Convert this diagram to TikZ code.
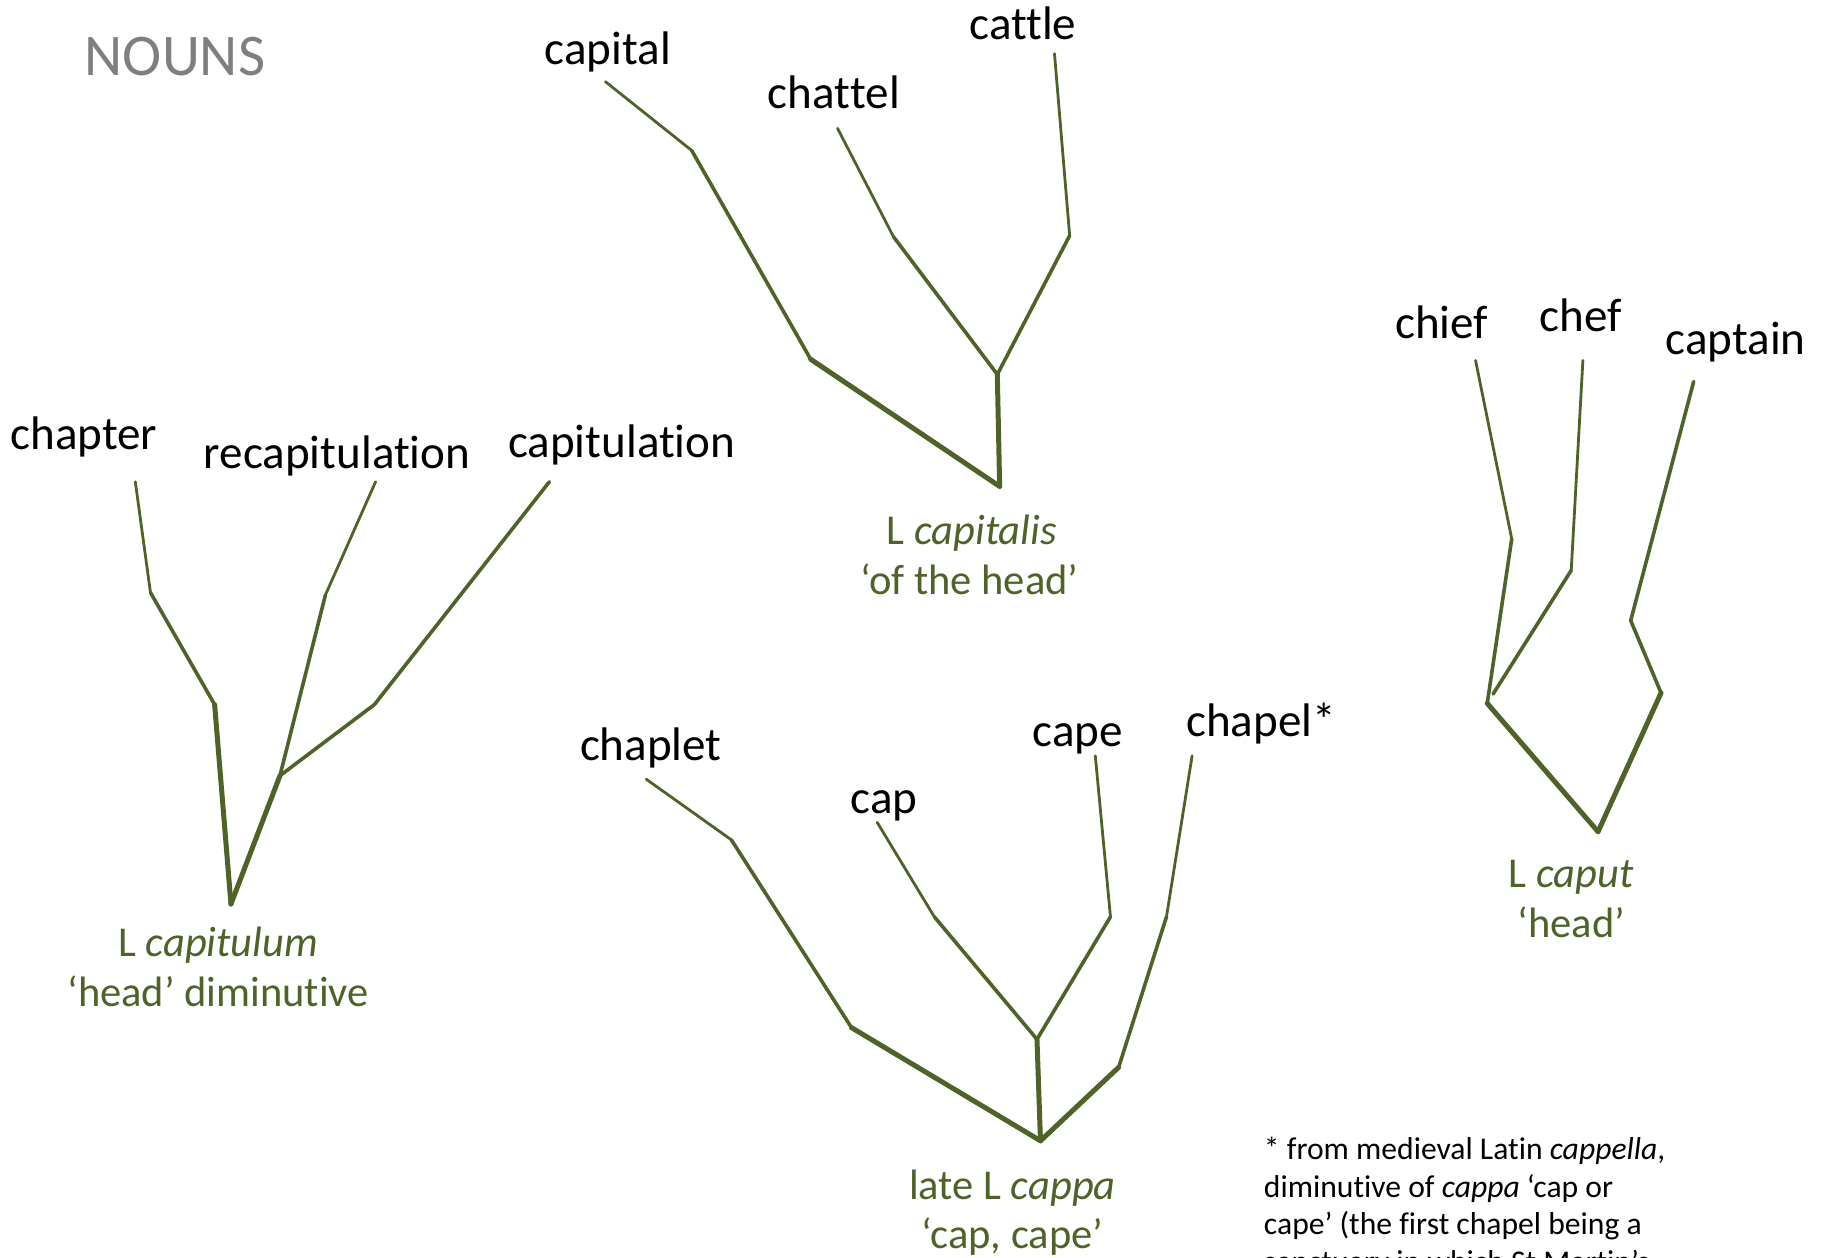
\documentclass[tikz,border=0pt]{standalone}
\usepackage{fontspec}
\setmainfont{Carlito}[Ligatures={TeX,NoCommon,NoContextual}]
\definecolor{leafgreen}{HTML}{4F6228}
\definecolor{headgray}{HTML}{7F7F7F}
\tikzset{
	word/.style={anchor=base, inner sep=0pt, font=\fontsize{13.4}{14}\selectfont},
	gloss/.style={word, text=leafgreen, font=\fontsize{12.1}{13}\selectfont},
	twig/.style={line width=0.28mm, color=leafgreen, line cap=round},
	branch/.style={line width=0.36mm, color=leafgreen, line cap=round},
	trunk/.style={line width=0.50mm, color=leafgreen, line cap=round},
	note/.style={anchor=north west, align=left, inner sep=0pt, font=\fontsize{9}{10.75}\selectfont}
}

\begin{document}
\begin{tikzpicture}[x=0.11665mm, y=-0.11665mm]
		%%%%% START %%%%%
		
		\useasboundingbox (0, 0) rectangle (1568, 1078);
		
		\node[word, text=headgray, font=\fontsize{16.8}{18}\selectfont] (nouns) at (150, 65) {NOUNS};
		
		% L capitulum
		\coordinate (capitulum) at (198, 775);
		\coordinate (capitulum-fork) at (240, 665);
		\coordinate (chapter-1) at (116, 413);
		\coordinate (chapter-2) at (129, 508);
		\coordinate (chapter-3) at (184, 604);
		\coordinate (recap-1) at (322, 413);
		\coordinate (recap-2) at (279, 510);
		\coordinate (capitulation-1) at (471, 413);
		\coordinate (capitulation-2) at (321, 604);
		
		\draw[twig] (chapter-1) -- (chapter-2);
		\draw[twig] (recap-1) -- (recap-2);
		\draw[branch] (chapter-2) -- (chapter-3);
		\draw[branch] (recap-2) -- (capitulum-fork);
		\draw[branch] (capitulation-1) -- (capitulation-2);
		\draw[branch] (capitulation-2) -- (capitulum-fork);
		\draw[trunk] (chapter-3) -- (capitulum);
		\draw[trunk] (capitulum-fork) -- (capitulum);
		
		\node[word] (chapter) at (72, 385) {chapter};
		\node[word] (recap) at (289, 402) {recapitulation};
		\node[word] (capitulation) at (533, 392) {capitulation};
		\node[gloss] (capitulum-l) at (187, 820) {L \textit{capitulum}};
		\node[gloss] (capitulum-g) at (187, 863) {`head' diminutive};
		
		% L capitalis
		\coordinate (capitalis) at (857, 417);
		\coordinate (capitalis-fork) at (855, 321);
		\coordinate (capital-1) at (519, 70);
		\coordinate (capital-2) at (593, 129);
		\coordinate (capital-3) at (695, 308);
		\coordinate (chattel-1) at (718, 110);
		\coordinate (chattel-2) at (766, 203);
		\coordinate (cattle-1) at (904, 46);
		\coordinate (cattle-2) at (917, 202);
		
		\draw[twig] (capital-1) -- (capital-2);
		\draw[twig] (chattel-1) -- (chattel-2);
		\draw[twig] (cattle-1) -- (cattle-2);
		\draw[branch] (capital-2) -- (capital-3);
		\draw[branch] (chattel-2) -- (capitalis-fork);
		\draw[branch] (cattle-2) -- (capitalis-fork);
		\draw[trunk] (capital-3) -- (capitalis);
		\draw[trunk] (capitalis-fork) -- (capitalis);
		
		\node[word] (capital) at (521, 55) {capital};
		\node[word] (chattel) at (715, 93) {chat\kern0pt tel};
		\node[word] (cattle) at (877, 34) {cattle};
		\node[gloss] (capitalis-l) at (833, 467) {L \textit{capitalis}};
		\node[gloss] (capitalis-g) at (831, 510) {`of the head'};
		
		% late L cappa
		\coordinate (cappa) at (892, 978);
		\coordinate (cappa-fork) at (889, 891);
		\coordinate (chaplet-1) at (554, 668);
		\coordinate (chaplet-2) at (627, 720);
		\coordinate (chaplet-3) at (730, 881);
		\coordinate (cap-1) at (752, 705);
		\coordinate (cap-2) at (801, 786);
		\coordinate (cape-1) at (939, 648);
		\coordinate (cape-2) at (952, 786);
		\coordinate (chapel-1) at (1022, 648);
		\coordinate (chapel-2) at (1000, 786);
		\coordinate (chapel-3) at (959, 915);
		
		\draw[twig] (chaplet-1) -- (chaplet-2);
		\draw[twig] (cap-1) -- (cap-2);
		\draw[twig] (cape-1) -- (cape-2);
		\draw[twig] (chapel-1) -- (chapel-2);
		\draw[branch] (chaplet-2) -- (chaplet-3);
		\draw[branch] (cap-2) -- (cappa-fork);
		\draw[branch] (cape-2) -- (cappa-fork);
		\draw[branch] (chapel-2) -- (chapel-3);
		\draw[trunk] (chaplet-3) -- (cappa);
		\draw[trunk] (cappa-fork) -- (cappa);
		\draw[trunk] (chapel-3) -- (cappa);
		
		\node[word] (chaplet) at (558, 652) {chaplet};
		\node[word] (cap) at (758, 697) {cap};
		\node[word] (cape) at (924, 640) {cape};
		\node[word] (chapel) at (1081, 631) {chapel*};
		\node[gloss] (cappa-l) at (868, 1028) {late L \textit{cappa}};
		\node[gloss] (cappa-g) at (868, 1070) {`cap, cape'};
		
		% L caput
		\coordinate (caput) at (1370, 713);
		\coordinate (chief-1) at (1265, 309);
		\coordinate (chief-2) at (1296, 462);
		\coordinate (chief-3) at (1275, 603);
		\coordinate (chef-1) at (1357, 309);
		\coordinate (chef-2) at (1347, 489);
		\coordinate (chef-3) at (1280, 595);
		\coordinate (captain-1) at (1452, 327);
		\coordinate (captain-2) at (1398, 532);
		\coordinate (captain-3) at (1424, 594);
		
		\draw[twig] (chief-1) -- (chief-2);
		\draw[twig] (chef-1) -- (chef-2);
		\draw[branch] (chief-2) -- (chief-3);
		\draw[branch] (chef-2) -- (chef-3);
		\draw[branch] (captain-1) -- (captain-2);
		\draw[branch] (captain-2) -- (captain-3);
		\draw[trunk] (chief-3) -- (caput);
		\draw[trunk] (captain-3) -- (caput);
		
		\node[word] (chief) at (1236, 290) {chief};
		\node[word] (chef) at (1355, 284) {chef};
		\node[word] (captain) at (1488, 304) {captain};
		\node[gloss] (caput-l) at (1347, 761) {L \textit{caput}};
		\node[gloss] (caput-g) at (1347, 804) {`head'};
		
		\node[note] (footnote) at (1083, 974) {* from medieval Latin \textit{cappella},\\diminutive of \textit{cappa} `cap or\\cape' (the first chapel being a\\sanctuary in which St Martin's};
		
		%%%%% END %%%%%
	\end{tikzpicture}
\end{document}
